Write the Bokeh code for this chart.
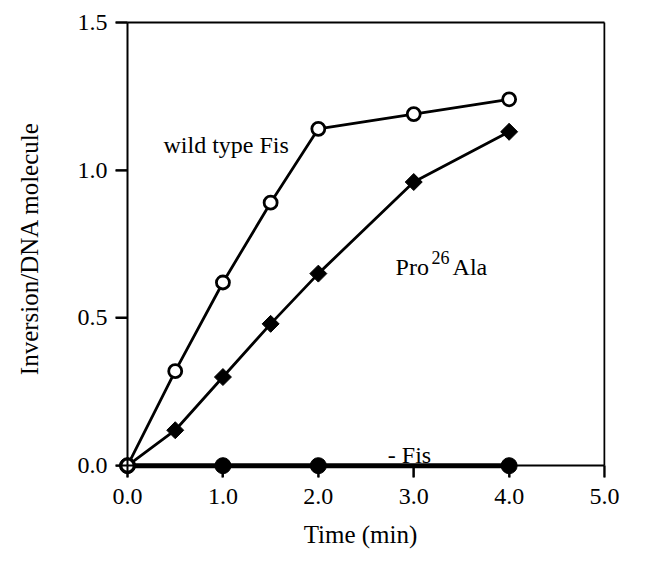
from bokeh.plotting import figure
from bokeh.models import Range1d, FixedTicker, LinearAxis
from bokeh.core.properties import value
from bokeh.embed import file_html
from bokeh.resources import INLINE
import math

# data
wt_x = [0, 0.5, 1.0, 1.5, 2.0, 3.0, 4.0]
wt_y = [0.0, 0.32, 0.62, 0.89, 1.14, 1.19, 1.24]
pro_x = [0, 0.5, 1.0, 1.5, 2.0, 3.0, 4.0]
pro_y = [0.0, 0.12, 0.30, 0.48, 0.65, 0.96, 1.13]
nofis_x = [0, 1.0, 2.0, 4.0]
nofis_y = [0.0, 0.0, 0.0, 0.0]
x_ticks = [0, 1, 2, 3, 4, 5]
y_ticks = [0, 0.5, 1.0, 1.5]
x_min, x_max = 0.0, 5.0
y_min, y_max = 0.0, 1.5

FONT = "Liberation Serif"
FS = "24px"

# padding (data units) so that edge markers are not clipped; tick marks fill the gap
XPAD, YPAD = 0.126, 0.04
p = figure(width=633, height=550, output_backend="svg", toolbar_location=None,
           x_range=Range1d(x_min - XPAD, x_max + 0.01),
           y_range=Range1d(y_min - YPAD, y_max + 0.01),
           min_border_left=115, min_border_right=28, min_border_top=19, min_border_bottom=71)
p.xgrid.visible = False
p.ygrid.visible = False
p.outline_line_color = None

xa = p.xaxis[0]
ya = p.yaxis[0]
for ax in (xa, ya):
    ax.axis_line_color = None
    ax.major_tick_line_color = "black"
    ax.major_tick_line_width = 2
    ax.minor_tick_line_color = None
    ax.major_tick_in = 12
    ax.major_tick_out = 0
    ax.major_label_text_font = FONT
    ax.major_label_text_font_size = FS
    ax.major_label_text_color = "black"
    ax.axis_label_text_font = FONT
    ax.axis_label_text_font_size = "25px"
    ax.axis_label_text_font_style = "normal"
    ax.axis_label_text_color = "black"
xa.ticker = FixedTicker(ticks=x_ticks)
ya.ticker = FixedTicker(ticks=y_ticks)
xa.major_label_overrides = {t: f"{t:.1f}" for t in x_ticks}
ya.major_label_overrides = {t: f"{t:.1f}" for t in y_ticks}
xa.axis_label = "Time (min)"
ya.axis_label = "Inversion/DNA molecule"
xa.major_label_standoff = 11
ya.major_label_standoff = 8
xa.axis_label_standoff = 14
ya.axis_label_standoff = 32


def box_axis(loc, bounds):
    return LinearAxis(fixed_location=loc, bounds=bounds, ticker=FixedTicker(ticks=[]),
                      major_label_text_color=None, major_label_standoff=0,
                      axis_line_width=2, axis_line_color="black",
                      major_tick_line_color=None, minor_tick_line_color=None)


# the four sides of the box
p.add_layout(box_axis(x_min, (y_min, y_max)), "right")
p.add_layout(box_axis(x_max, (y_min, y_max)), "right")
p.add_layout(box_axis(y_min, (x_min, x_max)), "above")
p.add_layout(box_axis(y_max, (x_min, x_max)), "above")

# outward tick marks on the left and bottom sides of the box
p.segment(x0=[x_min] * len(y_ticks), y0=y_ticks, x1=[x_min - XPAD] * len(y_ticks), y1=y_ticks,
          line_color="black", line_width=2)
p.segment(x0=x_ticks, y0=[y_min] * len(x_ticks), x1=x_ticks, y1=[y_min - YPAD] * len(x_ticks),
          line_color="black", line_width=2)

# lines
p.line(nofis_x, nofis_y, line_color="black", line_width=5)
p.line(pro_x, pro_y, line_color="black", line_width=2.8)
p.line(wt_x, wt_y, line_color="black", line_width=2.8)

# markers
p.scatter(nofis_x, nofis_y, marker="circle", size=16, fill_color="black", line_color="black")
p.scatter(pro_x, pro_y, marker="square", size=12, angle=math.pi / 4,
          fill_color="black", line_color="black", line_width=1)
p.scatter(wt_x, wt_y, marker="circle", size=13, fill_color="white", line_color="black", line_width=2.8)

# annotations
p.text(x=[0.377], y=[1.085], text=["wild type Fis"], text_font=value(FONT),
       text_font_size=FS, text_baseline="middle", text_align="left", text_color="black")
p.text(x=[2.81], y=[0.671], text=["Pro"], text_font=value(FONT),
       text_font_size=FS, text_baseline="alphabetic", text_align="left", text_color="black")
p.text(x=[2.81], y=[0.671], text=["26"], text_font=value(FONT), x_offset=36, y_offset=-10,
       text_font_size="18px", text_baseline="alphabetic", text_align="left", text_color="black")
p.text(x=[2.81], y=[0.671], text=["Ala"], text_font=value(FONT), x_offset=57,
       text_font_size=FS, text_baseline="alphabetic", text_align="left", text_color="black")
p.text(x=[2.956], y=[0.037], text=["- Fis"], text_font=value(FONT),
       text_font_size=FS, text_baseline="alphabetic", text_align="center", text_color="black")

open("out.html", "w").write(file_html(p, INLINE))
